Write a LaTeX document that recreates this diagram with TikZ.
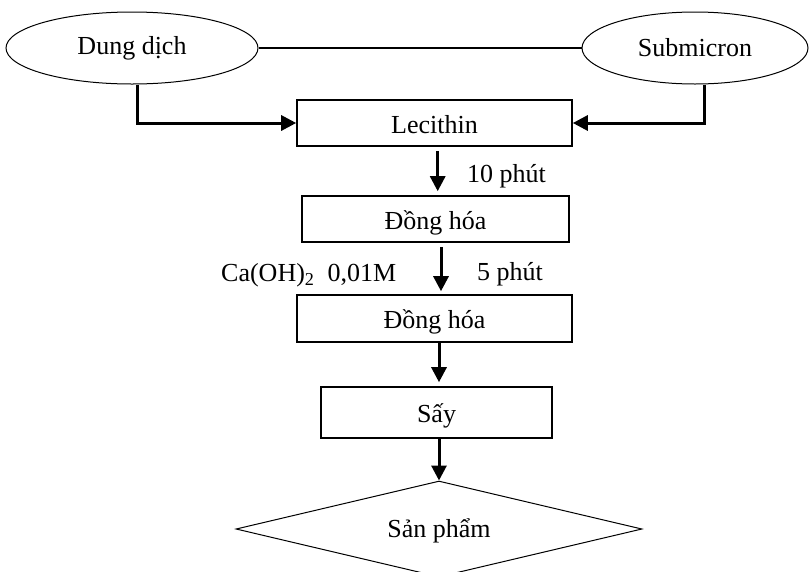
\documentclass[tikz,border=0pt]{standalone}
\usepackage{fontspec}
\setmainfont{Liberation Serif}
\usetikzlibrary{shapes.geometric,arrows.meta}
\begin{document}
\begin{tikzpicture}[x=1pt,y=-1pt,
  every node/.style={font=\fontsize{26}{30}\selectfont},
  oval/.style={draw,ellipse,line width=1pt,inner sep=0pt},
  box/.style={draw,rectangle,line width=1.6pt,inner sep=0pt,text height=20pt,text depth=0pt},
  dia/.style={draw,diamond,line width=1pt,inner sep=0pt,aspect=4.2,text height=17pt,text depth=0pt},
  arr/.style={line width=3pt,-{Triangle[length=15pt,width=15pt]}},
  lbl/.style={inner sep=0pt,anchor=base west}]
\useasboundingbox (0,0) rectangle (810,571);
\node[oval,minimum width=252pt,minimum height=72pt] (dd) at (132,48) {Dung dịch};
\node[oval,minimum width=226pt,minimum height=72pt] (sm) at (695,48) {Submicron};
\node[box,minimum width=275pt,minimum height=46pt] (lec) at (434.5,123) {Lecithin};
\node[box,minimum width=267pt,minimum height=46pt] (dh1) at (435.5,219) {Đồng hóa};
\node[box,minimum width=275pt,minimum height=47pt] (dh2) at (434.5,318.5) {Đồng hóa};
\node[box,minimum width=231pt,minimum height=51pt] (say) at (436.5,412.5) {Sấy};
\node[dia,minimum width=406pt,minimum height=96pt] (sp) at (439,529) {Sản phẩm};
\node[lbl] (t10) at (467,182.5) {10 phút};
\node[lbl] (ca) at (221,281.5) {Ca(OH)\textsubscript{2}\ \ 0,01M};
\node[lbl] (t5) at (477,280) {5 phút};
\draw[line width=1.6pt] (dd.east) -- (sm.west);
\draw[arr] ([xshift=5pt]dd.south) |- (lec.west);
\draw[arr] ([xshift=9pt]sm.south) |- (lec.east);
\draw[arr] ([xshift=3.2pt,yshift=-4pt]lec.south) -- ([xshift=2.2pt,yshift=4pt]dh1.north);
\draw[arr] ([xshift=5.5pt,yshift=-4pt]dh1.south) -- ([xshift=6.5pt,yshift=3pt]dh2.north);
\draw[arr] ([xshift=4.5pt]dh2.south) -- ([xshift=2.5pt,yshift=4pt]say.north);
\draw[arr] ([xshift=2.5pt]say.south) -- (sp.north);
\end{tikzpicture}
\end{document}
